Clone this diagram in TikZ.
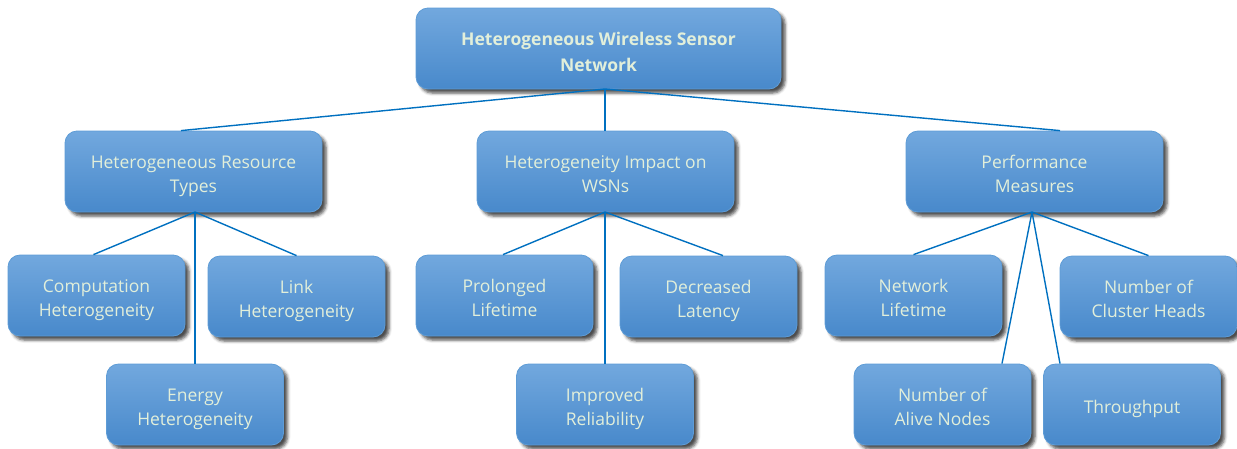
\documentclass[tikz,border=0pt]{standalone}
\usepackage{fontspec}
\setmainfont{Open Sans}
\usetikzlibrary{shadows.blur}
\definecolor{boxtop}{HTML}{72A8DE}
\definecolor{boxbot}{HTML}{4889CB}
\definecolor{boxline}{HTML}{5E9CD6}
\definecolor{txt}{HTML}{E2EFDA}
\definecolor{conn}{HTML}{0070C0}
\tikzset{
  box/.style={rectangle, rounded corners=12pt, top color=boxtop, bottom color=boxbot,
    draw=boxline, line width=0.8pt, minimum height=81pt, align=center, text=txt,
    font=\fontsize{17.5}{24.5}\selectfont, inner sep=0pt,
    text height=47pt, text depth=5pt,
    blur shadow={shadow xshift=4pt, shadow yshift=-4pt, shadow blur radius=3pt, shadow opacity=70}},
  leaf/.style={box, minimum width=177pt},
  mid/.style={box, minimum width=257pt},
  single/.style={leaf, text height=22.5pt},
  top/.style={box, minimum width=365pt, font=\fontsize{17.5}{26}\selectfont\bfseries,
    text height=51pt},
  link/.style={draw=conn, line width=1.4pt}
}
\begin{document}
\begin{tikzpicture}[x=1pt,y=-1pt]
\useasboundingbox (0,0) rectangle (1237,448);
\coordinate (rj) at (605,89);
\coordinate (hj) at (195,212);
\coordinate (ij) at (605,212);
\coordinate (pj) at (1032,212);
\node[top]  (root) at (598.5,48.5) {Heterogeneous Wireless Sensor\\Network};
\node[mid]  (hrt) at (193.5,171.5) {Heterogeneous Resource\\Types};
\node[mid]  (hiw) at (605.5,171.5) {Heterogeneity Impact on\\WSNs};
\node[mid]  (pm)  at (1034.5,171.5) {Performance\\Measures};
\node[leaf] (comp) at (96.5,295.5) {Computation\\Heterogeneity};
\node[leaf] (link) at (296.5,296.5) {Link\\Heterogeneity};
\node[leaf] (energy) at (195,404.5) {Energy\\Heterogeneity};
\node[leaf] (prol) at (504.5,295.5) {Prolonged\\Lifetime};
\node[leaf] (decr) at (708.5,296.5) {Decreased\\Latency};
\node[leaf] (impr) at (605,404.5) {Improved\\Reliability};
\node[leaf] (netl) at (913.5,295.5) {Network\\Lifetime};
\node[leaf] (clus) at (1148.5,296.5) {Number of\\Cluster Heads};
\node[leaf] (aliv) at (942.5,404.5) {Number of\\Alive Nodes};
\node[single] (thro) at (1132,404.5) {Throughput};
\draw[link] (rj) -- ([xshift=-12.5pt]hrt.north);
\draw[link] (rj) -- (hiw.north -| rj);
\draw[link] (rj) -- ([xshift=25.5pt]pm.north);
\draw[link] (hj) -- ([xshift=-3pt]comp.north);
\draw[link] (hj) -- (link.north);
\draw[link] (hj) -- (energy.north -| hj);
\draw[link] (ij) -- ([xshift=-1.5pt]prol.north);
\draw[link] (ij) -- ([xshift=14.5pt]decr.north);
\draw[link] (ij) -- (impr.north -| ij);
\draw[link] (pj) -- (netl.north);
\draw[link] (pj) -- (clus.north);
\draw[link] (pj) -- ([xshift=59.5pt]aliv.north);
\draw[link] (pj) -- ([xshift=-72pt]thro.north);
\end{tikzpicture}
\end{document}
